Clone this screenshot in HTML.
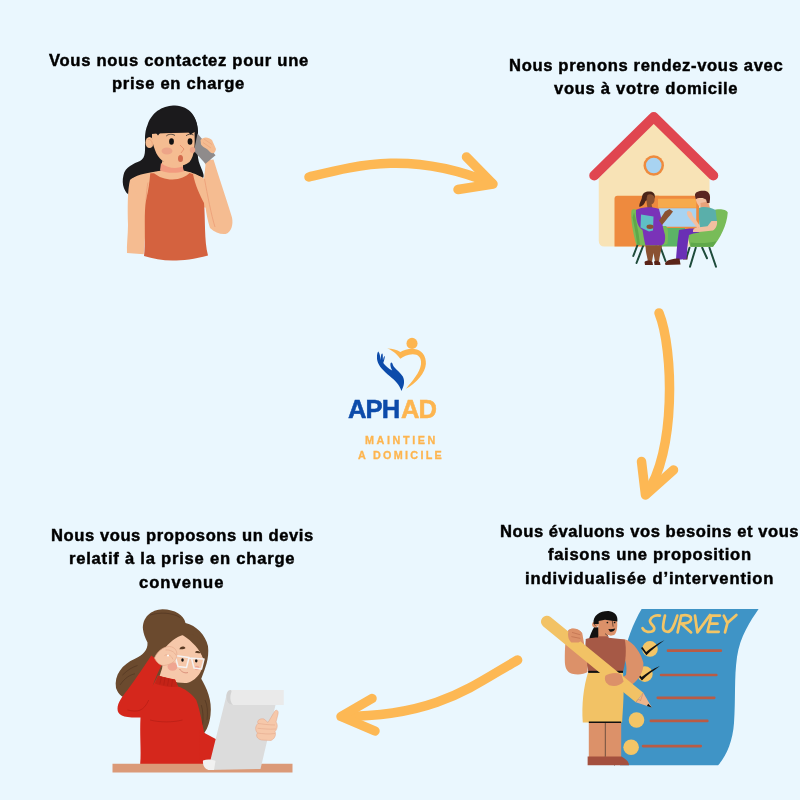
<!DOCTYPE html>
<html><head><meta charset="utf-8">
<style>
html,body{margin:0;padding:0;}
body{width:800px;height:800px;background:#EAF7FE;position:relative;overflow:hidden;font-family:"Liberation Sans",sans-serif;}
.t{position:absolute;will-change:transform;-webkit-text-stroke:0.45px #000;font-weight:bold;font-size:16.6px;line-height:20px;color:#000;white-space:nowrap;}
svg{position:absolute;overflow:visible;}
</style></head><body>
<!-- texts -->
<div class="t" id="a1" style="left:48.5px;top:50.65px;letter-spacing:0.7px">Vous nous contactez pour une</div>
<div class="t" id="a2" style="left:112px;top:74.45px;letter-spacing:0.69px">prise en charge</div>
<div class="t" id="b1" style="left:508.75px;top:55.65px;letter-spacing:0.65px">Nous prenons rendez-vous avec</div>
<div class="t" id="b2" style="left:554.4px;top:79.45px;letter-spacing:0.69px">vous à votre domicile</div>
<div class="t" id="c1" style="left:50.9px;top:525.65px;letter-spacing:0.56px">Nous vous proposons un devis</div>
<div class="t" id="c2" style="left:69px;top:549.45px;letter-spacing:0.77px">relatif à la prise en charge</div>
<div class="t" id="c3" style="left:139.3px;top:573.45px;letter-spacing:1.0px">convenue</div>
<div class="t" id="d1" style="left:499.6px;top:521.65px;letter-spacing:0.54px">Nous évaluons vos besoins et vous</div>
<div class="t" id="d2" style="left:547.5px;top:545.45px;letter-spacing:0.68px">faisons une proposition</div>
<div class="t" id="d3" style="left:524.6px;top:569.45px;letter-spacing:0.87px">individualisée d’intervention</div>

<!-- arrows -->
<svg style="left:0;top:0" width="800" height="800" viewBox="0 0 800 800">
 <g fill="none" stroke="#FDB854" stroke-width="9.5" stroke-linecap="round" stroke-linejoin="round">
  <path d="M309,177 C355.4,165.6 411.3,150.1 492,183.5"/>
  <path d="M466.5,157 L493,184 L458,189.5"/>
  <path d="M659,313 C673.7,349 676.1,454.1 646,494"/>
  <path d="M641.5,461.5 L645.5,495 L673.5,470"/>
  <path d="M517.6,660 C472.5,685.6 436.7,716.5 342,716.5"/>
  <path d="M372,698.5 L341,716.5 L375,731"/>
 </g>
</svg>


<!-- woman 1: phone -->
<svg style="left:90px;top:90px" width="200" height="200" viewBox="0 0 800 800">
 <path fill="#1B1A1C" d="M230,140 C250,80 300,62 340,62 C400,64 432,110 432,170 C432,220 425,262 440,300 C448,322 460,342 452,352 L370,332 L290,322 C260,330 230,335 200,350 C178,365 168,392 160,422 C140,412 124,380 134,340 C140,308 176,294 200,284 C225,270 220,240 220,200 C220,170 224,155 230,140 Z"/>
 <path fill="#F5BC91" d="M160,360 C150,400 150,470 152,540 C152,580 146,620 148,652 L215,657 L222,560 C228,480 242,420 242,338 C200,342 172,350 160,360 Z"/>
 <path fill="#F5BC91" d="M408,338 C430,340 445,346 456,354 L462,300 L455,282 L494,278 C510,330 540,420 568,510 C574,540 565,570 542,576 C520,578 500,570 480,552 C470,520 465,490 462,470 C455,420 440,380 408,338 Z"/>
 <path fill="#F5BC91" d="M160,362 C175,342 220,332 288,322 L288,285 L372,285 L372,322 C400,328 425,334 450,352 L470,470 L215,470 Z"/>
 <path fill="#F29A7F" d="M284,292 C310,312 345,318 370,305 L376,325 C345,334 310,334 280,322 Z"/>
 <path fill="#D4623F" d="M241,333 L256,333 C275,348 300,358 330,358 C360,358 385,345 398,332 L412,336 C420,380 440,420 456,452 C462,520 456,600 472,662 C420,677 370,682 330,682 C290,682 250,674 216,664 C224,600 214,500 224,440 C234,400 238,370 241,333 Z"/>
 <path fill="none" stroke="#E9936F" stroke-width="2.5" d="M458,356 C470,420 485,500 500,548 M224,440 C226,410 228,390 232,370"/>
 <path fill="#8F8B8B" d="M430,174 L502,261 L462,295 L416,244 Z"/>
 <path fill="#F5BC91" d="M248,175 L418,168 C420,220 420,260 398,288 C380,302 360,305 340,302 C300,298 272,275 260,240 C252,220 246,195 248,175 Z"/>
 <ellipse cx="238" cy="210" rx="16" ry="22" fill="#F5BC91"/>
 <path fill="none" stroke="#E59C76" stroke-width="3" d="M232,198 C245,195 252,210 248,225"/>
 <path fill="#1B1A1C" d="M232,150 C250,90 300,66 340,66 C400,68 430,110 432,168 L418,168 L412,172 L402,178 L394,170 L280,172 L272,182 L264,172 L244,176 Z"/>
 <ellipse cx="326" cy="206" rx="9.5" ry="13" fill="#111"/>
 <ellipse cx="400" cy="206" rx="9.5" ry="13" fill="#111"/>
 <path fill="none" stroke="#222" stroke-width="3" d="M305,184 C315,175 330,175 340,182 M384,183 C392,176 405,175 414,180"/>
 <ellipse cx="308" cy="244" rx="22" ry="14" fill="#EDA488"/>
 <ellipse cx="410" cy="240" rx="11" ry="12" fill="#EDA488"/>
 <path fill="none" stroke="#E07A5C" stroke-width="2.5" d="M360,220 L376,236 L364,252"/>
 <ellipse cx="362" cy="274" rx="10" ry="14" fill="#D46B4D"/>
 <path fill="#F5BC91" d="M442,200 C452,186 474,186 488,200 L504,236 C502,252 492,256 482,250 L470,238 C460,232 450,226 444,218 Z"/>
 <path fill="none" stroke="#E59C76" stroke-width="2" d="M456,196 L488,218 M452,210 L484,232"/>
</svg>

<!-- house -->
<svg style="left:560px;top:100px" width="200" height="200" viewBox="0 0 800 800">
 <path fill="#F8E3B6" d="M155,312 L375,92 L598,312 L598,586 L178,586 Q155,586 155,563 Z"/>
 <path fill="none" stroke="#E04650" stroke-width="40" stroke-linecap="round" stroke-linejoin="round" d="M137,302 L375,68 L613,302"/>
 <circle cx="375" cy="262" r="41" fill="#EE8B3E"/>
 <circle cx="375" cy="262" r="31" fill="#A8D3F1"/>
 <path fill="#EE8A3E" d="M230,383 L395,383 L395,586 L218,586 L218,395 Q218,383 230,383 Z"/>
 <rect x="380" y="383" width="176" height="138" fill="#EE8A3E"/>
 <rect x="392" y="395" width="153" height="36" fill="#F6AA4C"/>
 <rect x="395" y="433" width="150" height="74" fill="#A8D3F1"/>
 <rect x="400" y="512" width="100" height="74" fill="#5BB466"/>
 <!-- left chair -->
 <g stroke="#1E4B3B" stroke-width="8" stroke-linecap="round">
  <path d="M310,580 L293,624 M333,582 L306,652 M400,584 L422,644 M384,584 L386,626"/>
 </g>
 <path fill="#78BC58" d="M286,442 C292,434 312,436 320,452 L334,506 L424,504 C434,510 434,545 430,575 C405,586 335,586 305,578 C290,525 282,470 286,442 Z"/>
 <path fill="#5FA84A" d="M290,470 C300,520 306,550 308,578 L320,580 C316,540 310,500 296,450 Z"/>
 <path fill="#4A2418" d="M328,388 C330,370 345,364 362,366 C378,368 382,382 378,394 L360,392 L350,400 L342,404 C338,415 332,424 318,428 C314,415 326,404 328,388 Z"/>
 <path fill="#8A5232" d="M350,380 C360,374 376,378 378,392 C380,404 376,414 366,418 L370,432 L350,432 C346,412 344,394 350,380 Z"/>
 <path fill="#7A33B8" d="M304,440 C320,428 370,424 396,436 C404,465 408,490 412,510 L420,540 C422,565 418,578 404,582 L342,582 C336,560 332,530 330,520 C312,510 302,480 304,440 Z"/>
 <path fill="#8A5232" d="M396,482 C405,470 414,456 420,446 L438,436 L452,446 L440,462 C430,472 420,486 408,500 Z"/>
 <path fill="#5FBFC5" d="M324,458 L374,466 L372,522 L356,526 L322,510 Z"/>
 <ellipse cx="360" cy="507" rx="14" ry="9" fill="#8A5232"/>
 <path fill="#8A5232" d="M342,582 L408,582 C404,605 398,625 396,646 L380,646 L374,612 L368,646 L352,646 C348,625 342,605 342,582 Z"/>
 <path fill="#5A2418" d="M338,648 C345,640 362,640 370,648 L372,660 L340,660 Z M376,646 C385,640 395,642 400,650 L402,660 L378,660 Z"/>
 <!-- right chair -->
 <g stroke="#1E4B3B" stroke-width="8" stroke-linecap="round">
  <path d="M543,591 L520,667 M598,591 L624,667 M569,591 L588,633 M518,591 L505,633"/>
 </g>
 <path fill="#5A2418" d="M492,625 L509,622 L510,638 L492,638 Z"/>
 <path fill="#78BC58" d="M512,522 C540,515 580,510 605,505 L611,442 C630,434 665,435 671,450 C668,500 640,555 612,587 L522,587 C512,560 510,535 512,522 Z"/>
 <path fill="#5FA84A" d="M522,570 C560,575 600,572 625,565 L612,587 L522,587 Z"/>
 <path fill="#F2BFA0" d="M543,392 L584,396 C588,410 586,420 580,425 L575,428 L560,428 C550,420 543,405 543,392 Z"/>
 <path fill="#E9A27A" d="M562,412 L592,406 L600,434 L564,436 Z"/>
 <path fill="#5A2620" d="M540,382 C538,366 560,361 580,363 C596,366 602,380 600,396 L598,412 L588,412 L584,398 L570,392 L552,392 L543,397 Z"/>
 <path fill="#5AAFAA" d="M556,432 C572,424 602,428 622,440 L628,486 L612,490 C612,502 610,510 606,514 L560,516 C556,490 554,460 556,432 Z"/>
 <path fill="#6A2FB5" d="M476,520 C500,514 540,512 560,516 L556,530 C540,532 525,535 516,540 C510,575 508,610 506,636 L464,640 C466,600 470,560 476,520 Z"/>
 <path fill="#F2BFA0" d="M606,484 L628,484 C630,500 624,515 612,522 L556,528 L532,528 C530,519 536,512 548,510 L590,505 Z"/>
 <path fill="#F2BFA0" d="M508,448 C512,440 522,444 528,452 L530,462 C540,475 552,490 560,505 L550,514 C540,500 528,485 518,474 C510,465 506,455 508,448 Z"/>
 <path fill="#5A2418" d="M420,652 C428,640 448,634 478,634 L482,658 L422,660 Z"/>
</svg>

<!-- woman 3: glasses -->
<svg style="left:100px;top:600px" width="200" height="180" viewBox="0 0 800 720">
 <path fill="#6B4A2E" d="M172,118 C168,70 205,38 250,37 C300,38 335,60 342,92 C385,102 422,140 432,185 C438,235 420,275 405,315 C425,350 450,400 442,460 C438,495 428,520 412,538 C392,470 372,420 350,380 L260,345 C220,335 180,362 140,388 C112,402 78,392 64,352 C56,300 88,258 140,235 C172,220 192,200 190,170 C180,150 174,135 172,118 Z"/>
 <path fill="none" stroke="#4E3320" stroke-width="2.5" d="M200,60 C240,48 290,50 320,70 M90,300 C110,280 130,268 150,262 M80,340 C100,310 120,300 140,295 M420,400 C430,420 432,450 428,480 M405,420 C412,440 414,470 410,500"/>
 <path fill="#F6C8AA" d="M255,300 C245,260 250,220 262,190 C285,160 320,140 335,140 C360,155 395,178 412,230 C414,265 405,290 390,305 C372,325 355,332 340,332 C300,332 268,320 255,300 Z"/>
 <path fill="#6B4A2E" d="M330,140 C370,130 405,150 430,185 L412,232 C400,200 370,165 330,140 Z"/>
 <path fill="#5A3A22" d="M318,197 C320,185 335,182 342,192 C340,196 330,198 318,197 Z M380,210 C384,202 396,202 402,212 C395,214 388,213 380,210 Z"/>
 <ellipse cx="290" cy="266" rx="20" ry="17" fill="#EFA591"/>
 <ellipse cx="388" cy="272" rx="9" ry="9" fill="#EFA591"/>
 <ellipse cx="330" cy="240" rx="5" ry="7" fill="#111"/>
 <ellipse cx="385" cy="243" rx="5" ry="7" fill="#111"/>
 <path fill="none" stroke="#F4F1F1" stroke-width="6" stroke-linejoin="round" d="M300,222 L356,230 L346,270 L312,266 Z M366,233 L416,236 L406,276 L376,272 Z M356,232 L366,234"/>
 <path fill="none" stroke="#C96F5E" stroke-width="2.5" d="M318,276 C328,290 342,294 352,290"/>
 <path fill="#F6C8AA" d="M238,305 L252,262 L290,300 L302,320 Z"/>
 <path fill="#D5271C" d="M205,222 C180,260 150,305 110,360 C90,385 70,410 70,435 C70,462 95,472 162,470 C158,540 166,610 160,662 L456,662 L466,640 L470,560 L420,545 C410,500 400,440 385,400 C365,372 338,354 312,346 L300,318 C275,312 250,308 232,302 L211,342 C222,312 235,282 248,258 C235,245 220,232 205,222 Z"/>
 <path fill="#C42317" d="M232,302 C255,310 280,316 300,318 L312,346 C285,350 250,346 220,334 Z"/>
 <path fill="none" stroke="#A81A12" stroke-width="2" d="M245,308 L240,335 M260,312 L255,340 M275,315 L270,343 M290,318 L286,346 M110,440 C150,450 175,445 195,400 M200,480 C240,490 290,490 330,480"/>
 <path fill="#F6C8AA" stroke="#E3A68A" stroke-width="2.5" d="M218,232 C226,210 250,186 278,186 C300,188 312,205 306,228 C300,250 280,258 256,262 C240,262 226,250 218,232 Z"/>
 <path fill="none" stroke="#E3A68A" stroke-width="2.5" d="M262,200 C280,198 300,208 304,222 M258,222 C270,215 285,220 292,238"/>
 <circle cx="272" cy="222" r="4" fill="#fff"/>
 <path fill="#D5271C" d="M396,520 L470,560 L458,640 L400,640 Z"/>
 <rect x="50" y="655" width="720" height="35" fill="#DB9A78"/>
 <path fill="#DCDCDC" d="M505,385 C510,398 520,420 532,420 L702,420 L642,676 L432,680 Z"/>
 <path fill="#EAEAEA" d="M522,360 L735,360 L735,420 L532,420 C515,420 505,405 505,390 C505,372 512,360 522,360 Z"/>
 <path fill="#D2D2D2" d="M522,360 C512,360 505,372 505,390 C505,405 515,420 532,420 C522,410 520,395 522,382 C524,370 530,362 522,360 Z"/>
 <path fill="#F1F1F1" d="M412,642 C430,636 448,638 462,644 L456,680 L434,680 C420,676 410,662 412,642 Z"/>
 <path fill="#F6C8AA" stroke="#E0A286" stroke-width="2" d="M672,490 L698,446 C704,436 716,442 712,456 L704,488 C712,498 710,516 700,526 C706,540 698,556 684,562 L646,560 C628,556 622,542 630,532 C620,522 620,504 632,494 C626,482 640,472 656,476 Z"/>
 <path fill="none" stroke="#E0A286" stroke-width="2" d="M632,494 C650,496 676,500 700,500 M630,513 C650,515 676,518 704,516 M630,532 C650,535 676,538 700,534"/>

</svg>

<!-- survey -->
<svg style="left:530px;top:600px" width="240" height="180" viewBox="0 0 800 600">
 <path fill="#3F94C6" d="M372,30 L762,30 C735,70 700,120 690,190 C680,260 686,330 680,410 C676,470 655,520 627,551 L300,551 L300,400 C300,330 302,260 310,200 C320,140 345,75 372,30 Z"/>
 <g fill="none" stroke="#F3C566" stroke-width="9" stroke-linecap="round" stroke-linejoin="round">
  <path d="M433,52 C420,50 404,54 400,68 C398,78 412,84 414,93 C416,104 404,107 392,106 C384,105 378,100 375,94"/>
  <path d="M450,52 C446,70 442,85 444,95 C446,104 452,106 460,106 C470,105 478,95 491,52"/>
  <path d="M492,108 L504,52 C515,50 530,50 536,58 C540,68 530,76 520,77 L505,79 L537,108"/>
  <path d="M550,52 L558,108 L600,50"/>
  <path d="M633,52 L604,52 L592,106 L629,106 M600,79 L625,79"/>
  <path d="M646,52 L658,77 L688,50 M658,77 L650,108"/>
 </g>
 <circle cx="400" cy="163" r="26" fill="#F3C566"/>
 <circle cx="383" cy="247" r="26" fill="#F3C566"/>
 <circle cx="355" cy="400" r="26" fill="#F3C566"/>
 <circle cx="337" cy="491" r="26" fill="#F3C566"/>
 <g fill="#111" stroke="none">
  <path d="M370,160 L375,157 L387,173 C405,158 425,145 448,134 C428,150 405,165 388,184 Z"/>
  <path d="M355,246 L360,243 L372,257 C390,242 410,230 433,220 C413,235 390,250 373,268 Z"/>
 </g>
 <g fill="none" stroke="#B95B45" stroke-width="9" stroke-linecap="round">
  <path d="M460,169 L636,169 M437,250 L621,250 M426,326 L614,326 M403,403 L591,403 M377,487 L569,487"/>
 </g>
 <!-- woman -->
 <path fill="#111" d="M214,90 L230,92 L230,134 L196,134 C200,118 206,102 214,90 Z"/>
 <path fill="#DC9169" d="M227,64 L290,66 C292,85 291,104 283,114 C276,120 266,120 259,116 L259,132 L228,132 Z"/>
 <circle cx="217" cy="82" r="10" fill="#DC9169"/>
 <path fill="#111" d="M212,80 C208,50 236,36 262,37 C284,39 294,54 291,72 L250,66 L229,70 L229,80 Z"/>
 <circle cx="258" cy="75" r="2.8" fill="#111"/>
 <circle cx="282" cy="75" r="2.8" fill="#111"/>
 <path fill="none" stroke="#111" stroke-width="1.8" d="M274,67 L277,89 M250,112 L260,120 M213,78 L218,86"/>
 <path fill="#111" d="M261,97 C268,98 276,97 284,95 C281,104 273,108 266,105 Z"/>
 <path fill="#DC9169" d="M184,132 L318,132 C345,140 372,180 378,210 C380,240 360,270 330,290 L300,292 L290,270 L320,250 C325,220 318,200 312,190 Z"/>
 <path fill="#A65946" d="M186,130 C200,126 225,124 262,126 L316,132 C322,165 320,200 310,240 L195,240 C186,210 182,170 186,130 Z"/>
 <rect x="229" y="121" width="33" height="12" fill="#A65946"/>
 <path fill="#F2C265" d="M194,240 L310,240 C315,300 310,360 307,408 L176,408 C172,350 178,290 194,240 Z"/>
 <rect x="194" y="236" width="116" height="7" fill="#111"/>
 <rect x="196" y="405" width="108" height="5" fill="#111"/>
 <path fill="#DC9169" d="M196,410 L304,410 L304,526 L196,526 Z"/>
 <path fill="none" stroke="#222" stroke-width="2" d="M251,410 L251,522 C258,530 272,540 282,552"/>
 <path fill="#A4503E" d="M192,522 L305,522 C320,530 330,540 330,551 L192,551 Z"/>
 <path fill="#DC9169" d="M128,100 C140,92 165,96 174,110 C180,140 184,170 190,200 L192,240 C180,248 160,250 140,246 C122,240 116,225 116,200 C116,160 118,120 128,100 Z"/>
 <path fill="#F2C265" d="M68.5,56.4 L377.5,309.4 L352.5,340.6 L43.5,87.6 A20,20 0 0,1 68.5,56.4 Z"/>
 <path fill="#EFB48B" d="M377.5,309.4 L406,358 L352.5,340.6 Z"/>
 <path fill="none" stroke="#C98A5E" stroke-width="2" d="M352.5,340.6 L362,330 L368,336 L377.5,309.4"/>
 <path fill="#111" d="M394,346 L406,358 L390,353 Z"/>
 <path fill="#DC9169" d="M130,100 C142,90 165,96 172,110 C176,122 174,136 162,142 L138,142 C126,132 124,112 130,100 Z"/>
 <path fill="none" stroke="#B8694A" stroke-width="2" d="M140,108 L168,116 M138,122 L168,128"/>
 <path fill="#DC9169" d="M252,252 C266,244 286,240 305,248 L312,272 C300,286 282,290 264,284 C252,278 246,264 252,252 Z"/>
</svg>
<!-- logo -->
<svg style="left:370px;top:335px" width="60" height="60" viewBox="0 0 800 800">
 <circle cx="560" cy="112" r="74" fill="#FDB54F"/>
 <path fill="#FDB54F" d="M230,180 C300,180 360,200 405,225 C450,200 520,178 590,185 C690,195 752,280 745,385 C738,500 620,640 480,715 C560,620 668,500 680,390 C690,300 640,258 570,258 C500,260 440,290 405,318 C370,270 310,205 230,180 Z"/>
</svg>
<svg style="left:372px;top:348px" width="34" height="44" viewBox="0 0 618 800">
 <path fill="#0C4BAA" d="M115,62 C92,85 82,165 100,240 C122,325 205,415 325,512 C425,595 500,665 535,780 C582,700 602,600 560,520 C520,455 450,400 398,340 C375,310 378,268 352,262 C325,268 328,335 368,408 C300,372 240,325 205,272 C222,232 232,180 234,152 C220,140 205,175 200,222 C195,175 202,105 185,98 C162,104 160,175 160,222 C150,185 148,100 115,62 Z"/>
</svg>
<div style="position:absolute;will-change:transform;left:347.5px;top:397px;-webkit-text-stroke:0.5px #0C4BAA;font:bold 25.6px/24px 'Liberation Sans',sans-serif;white-space:nowrap;letter-spacing:-0.9px;color:#0C4BAA" id="aph">APH</div>
<div style="position:absolute;will-change:transform;left:401px;top:397px;-webkit-text-stroke:0.5px #FDB54F;font:bold 25.6px/24px 'Liberation Sans',sans-serif;white-space:nowrap;letter-spacing:-0.9px;color:#FDB54F" id="ad2">AD</div>
<div style="position:absolute;will-change:transform;left:365px;top:434px;-webkit-text-stroke:0.3px #FDB54F;font:bold 10.8px/12px 'Liberation Sans',sans-serif;white-space:nowrap;letter-spacing:2.6px;color:#FDB54F" id="mt">MAINTIEN</div>
<div style="position:absolute;will-change:transform;left:358px;top:448.5px;-webkit-text-stroke:0.3px #FDB54F;font:bold 10.8px/12px 'Liberation Sans',sans-serif;white-space:nowrap;letter-spacing:2.29px;color:#FDB54F" id="ad">A DOMICILE</div>
</body></html>
